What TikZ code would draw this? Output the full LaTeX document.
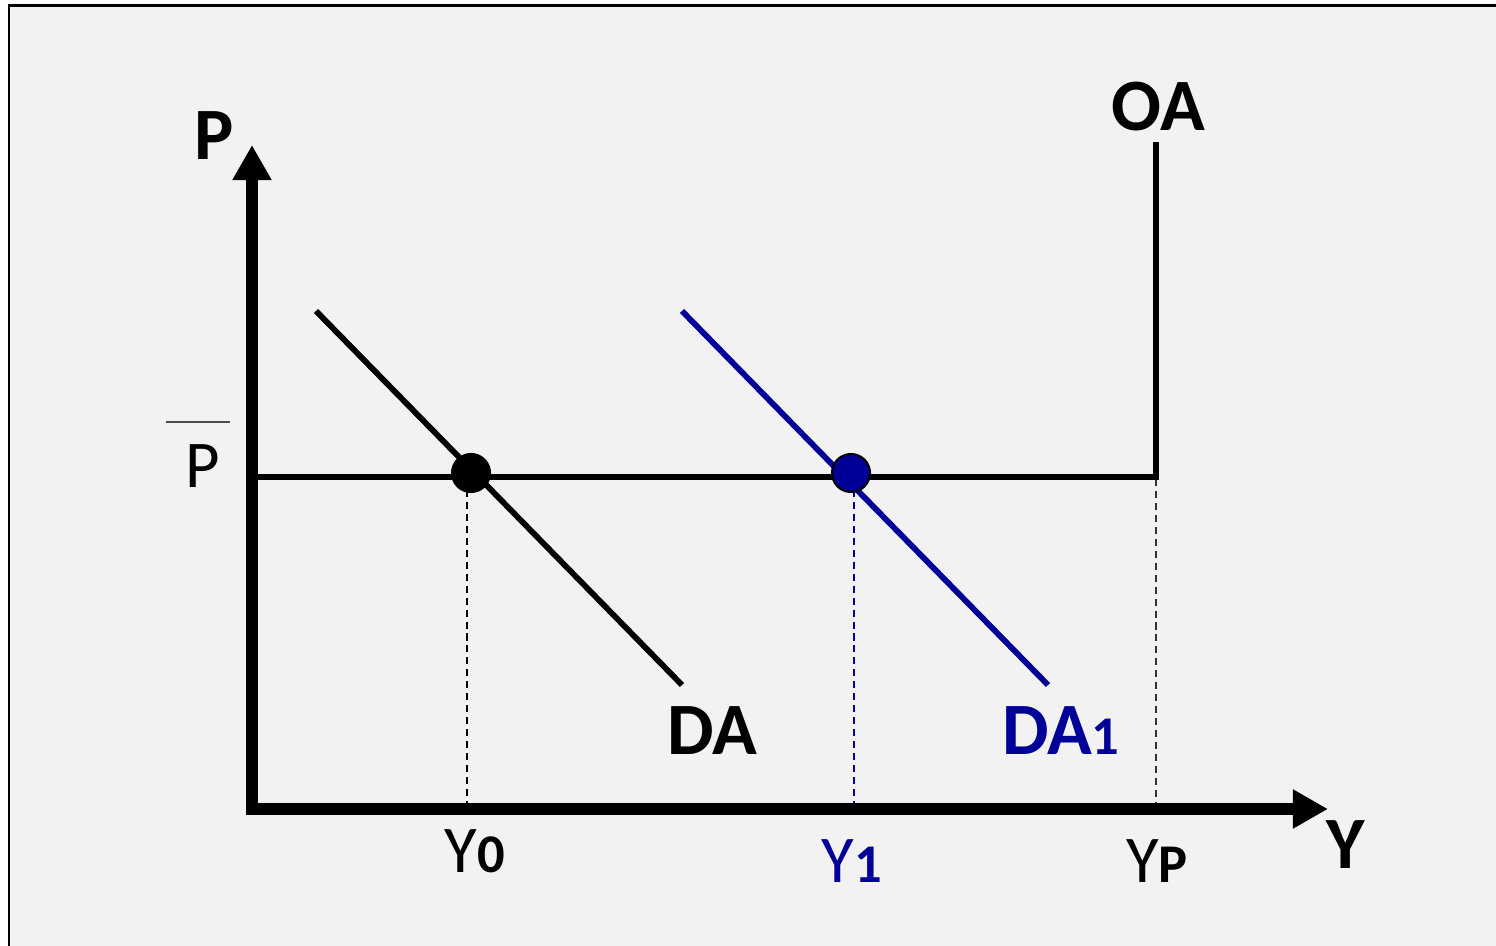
\documentclass[tikz,border=0pt]{standalone}
\usepackage{fontspec}
\setmainfont{Carlito}
\usetikzlibrary{arrows.meta}
\definecolor{bgray}{HTML}{F2F2F2}
\definecolor{dablue}{HTML}{000099}
\tikzset{
  axis/.style={line width=3.4pt, -{Triangle[length=10pt,width=10.5pt]}},
  curve/.style={line width=1.65pt},
  guide/.style={line width=0.4pt, dash pattern=on 2pt off 1.4pt},
  eqdot/.style={circle, draw=black, line width=0.6pt, minimum size=10.8pt, inner sep=0pt},
  biglbl/.style={font=\fontsize{21}{24}\selectfont\bfseries, inner sep=0pt},
  reglbl/.style={font=\fontsize{19}{22}\selectfont, inner sep=0pt},
}
\newcommand{\subb}[1]{{\fontsize{15.5}{18}\selectfont\bfseries #1}}
\begin{document}
\begin{tikzpicture}[x=0.01cm, y=-0.01cm]
\clip (0,0) rectangle (1496,946);
\useasboundingbox (0,0) rectangle (1496,946);
\fill[white] (0,0) rectangle (1496,946);
\draw[line width=0.85pt, fill=bgray] (9,6) rectangle (1520,970);

% coordinates
\coordinate (O) at (252,809);
\coordinate (ytip) at (252,145);
\coordinate (xtip) at (1328,809);
\coordinate (hl) at (256,477);
\coordinate (hr) at (1156,477);
\coordinate (oatop) at (1156,145);
\coordinate (da0) at (316,311);
\coordinate (da1) at (682,685);
\coordinate (db0) at (682,311);
\coordinate (db1) at (1048,685);
\coordinate (g0t) at (467,490);
\coordinate (g0b) at (467,805);
\coordinate (g1t) at (854,490);
\coordinate (g1b) at (854,805);
\coordinate (g2t) at (1156,479);
\coordinate (g2b) at (1156,805);
\coordinate (pb0) at (166,422);
\coordinate (pb1) at (230,422);

% guides
\draw[guide, black] (g0t) -- (g0b);
\draw[guide, dablue] (g1t) -- (g1b);
\draw[guide, black!80] (g2t) -- (g2b);

% axes
\draw[axis] (252,815) -- (ytip);
\draw[axis] (247,809) -- (xtip);

% OA
\draw[curve, line cap=rect] (hl) -- (hr) -- (oatop);

% DA curves
\draw[curve] (da0) -- (da1);
\draw[curve, dablue] (db0) -- (db1);

% dots
\node[eqdot, fill=black] (e0) at (471,473) {};
\node[eqdot, fill=dablue] (e1) at (851,473) {};

% P bar
\draw[line width=0.6pt, black!70] (pb0) -- (pb1);
\node[reglbl, anchor=base] (pbar) at (203,488) {P};

% labels
\node[biglbl, anchor=base] (plbl) at (214,160) {P};
\node[biglbl, anchor=base] (oalbl) at (1158,131) {OA};
\node[biglbl, anchor=base] (dalbl) at (712,755) {DA};
\node[biglbl, anchor=base, text=dablue] (da1lbl) at (1061,755) {DA\subb{1}};
\node[biglbl, anchor=base] (ylbl) at (1346,869) {Y};
\node[reglbl, anchor=base] (y0lbl) at (475,873) {Y\subb{0}};
\node[reglbl, anchor=base, text=dablue] (y1lbl) at (852,883) {Y\subb{1}};
\node[reglbl, anchor=base] (yplbl) at (1157,883) {Y\subb{P}};
\end{tikzpicture}
\end{document}
